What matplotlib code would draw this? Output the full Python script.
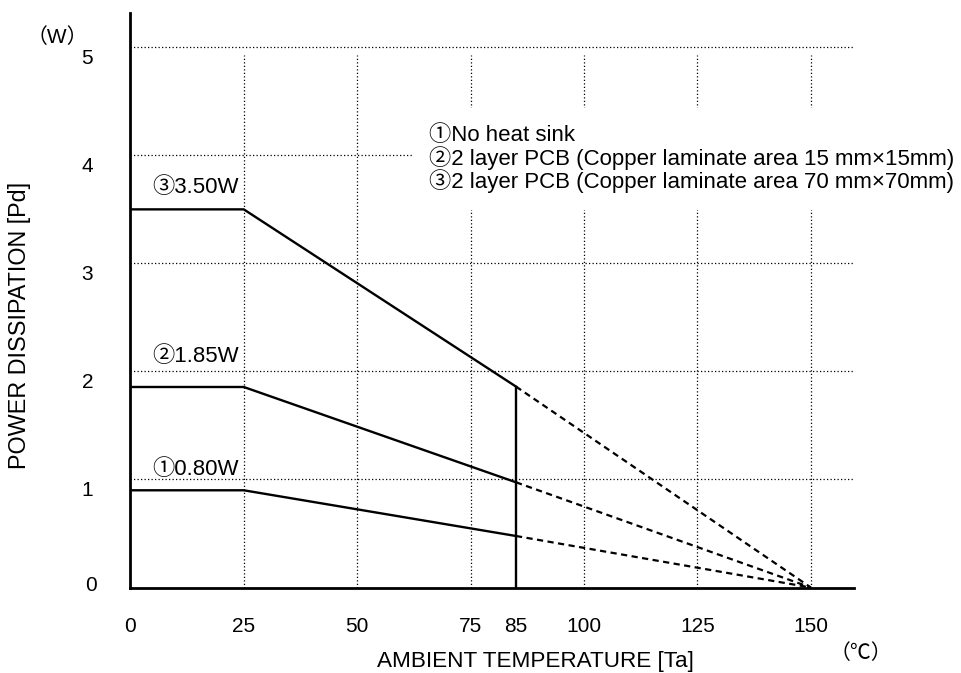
import numpy as np
import matplotlib
matplotlib.use("Agg")
import matplotlib.pyplot as plt
from matplotlib.transforms import ScaledTranslation

plt.rcParams["font.family"] = ["Liberation Sans", "Noto Sans CJK JP", "DejaVu Sans"]

# derating curves: flat until 25 C, solid to 85 C, dashed down to 0 W at 150 C
temps_solid = [0, 25, 85]
temps_dash = [85, 150]
pd_1 = [0.90, 0.90, 0.477]
pd_2 = [1.856, 1.856, 0.974]
pd_3 = [3.50, 3.50, 1.86]
labels_curve = ["\u24600.80W", "\u24611.85W", "\u24623.50W"]

legend_lines = [
    "\u2460No heat sink",
    "\u24612 layer PCB (Copper laminate area 15 mm\u00d715mm)",
    "\u24622 layer PCB (Copper laminate area 70 mm\u00d770mm)",
]

x_ticks = [0, 25, 50, 75, 85, 100, 125, 150]
x_grid = [25, 50, 75, 100, 125, 150]
y_ticks = [0, 1, 2, 3, 4, 5]

fig = plt.figure(figsize=(9.62, 6.73), dpi=100)
ax = fig.add_axes([0.1355, 0.127, 0.7522, 0.8541])
ax.set_xlim(0, 159.5)
ax.set_ylim(0, 5.32)

dot = (0, (1, 1.8))
for yv in y_ticks[1:]:
    ax.plot([0, 159.5], [yv, yv], color="black", lw=0.9, ls=dot, zorder=1)
for xv in x_grid:
    ax.plot([xv, xv], [0, 4.93], color="black", lw=0.9, ls=dot, zorder=1)

for vals in (pd_1, pd_2, pd_3):
    ax.plot(temps_solid, vals, color="black", lw=1.7, zorder=3)
    ax.plot(temps_dash, [vals[-1], 0], color="black", lw=1.6,
            ls=(0, (2.8, 2.0)), zorder=3)

# vertical line at 85 C
ax.plot([85, 85], [0, pd_3[-1]], color="black", lw=1.7, zorder=3)

ax.text(4.8, 1.088, labels_curve[0], fontsize=16, va="center", ha="left")
ax.text(4.8, 2.134, labels_curve[1], fontsize=16, va="center", ha="left")
ax.text(4.8, 3.70, labels_curve[2], fontsize=16, va="center", ha="left")

ax.text(65.9, 3.965, "\n".join(legend_lines), fontsize=16, va="center",
        ha="left", linespacing=1.0, zorder=4,
        bbox=dict(boxstyle="square,pad=0.75", fc="white", ec="none"))

for side in ("top", "right"):
    ax.spines[side].set_visible(False)
for side in ("left", "bottom"):
    ax.spines[side].set_linewidth(2.0)
    ax.spines[side].set_zorder(5)

ax.set_xticks(x_ticks)
ax.set_yticks(y_ticks)
ax.tick_params(axis="x", length=0, pad=21, labelsize=15)
ax.tick_params(axis="y", length=0, pad=31, labelsize=15)
for lab in ax.get_yticklabels():
    lab.set_horizontalalignment("center")
for i, lab in enumerate(ax.get_yticklabels()):
    dx = 4 if i == 0 else 0
    dy = 4.5 if i == 0 else -9
    lab.set_transform(lab.get_transform() +
                      ScaledTranslation(dx / 100, dy / 100, fig.dpi_scale_trans))

fig.text(20 / 962, 1 - 325 / 673, "POWER DISSIPATION [Pd]", rotation=90,
         ha="center", va="center", fontsize=16.8)
fig.text(535.5 / 962, 1 - 661 / 673, "AMBIENT TEMPERATURE [Ta]",
         ha="center", va="center", fontsize=16.2)
fig.text(861 / 962, 1 - 653 / 673, "\uff08\u2103\uff09", ha="center",
         va="center", fontsize=15)
fig.text(57 / 962, 1 - 37 / 673, "\uff08W\uff09", ha="center", va="center",
         fontsize=15)

fig.savefig("out.png", dpi=100)
